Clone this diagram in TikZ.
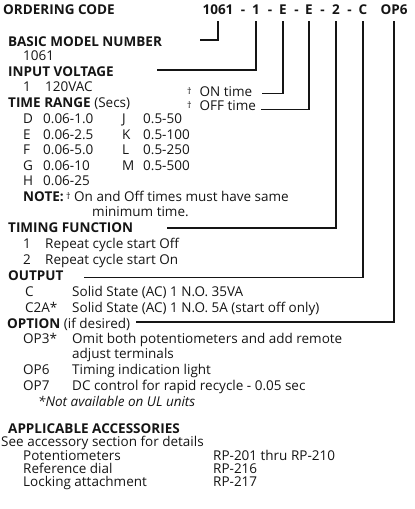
\documentclass[tikz,border=0pt]{standalone}
\usepackage{fontspec}
\setmainfont{Open Sans}
\definecolor{ink}{HTML}{151515}
\newcommand\dg{\raisebox{2pt}{\fontsize{9}{9}\selectfont †}}
\tikzset{
  txt/.style={anchor=base west, inner sep=0pt, font=\fontsize{13.5}{15}\selectfont, text=ink},
  hd/.style={txt, font=\fontsize{13.5}{15}\selectfont\bfseries},
  itxt/.style={txt, font=\fontsize{13.5}{15}\selectfont\itshape},
  code/.style={anchor=base, inner sep=0pt, font=\fontsize{13.5}{15}\selectfont\bfseries, text=ink},
  conn/.style={draw=ink, line width=1.3pt},
}
\begin{document}
\begin{tikzpicture}[x=1pt,y=-1pt]
\fill[white] (0,0) rectangle (415,509);
\useasboundingbox (0,0) rectangle (415,509);
% ordering code
\node[hd] (ord) at (3,14) {ORDERING CODE};
\node[code] (c1061) at (218,14) {1061};
\node[code] (d1) at (243,14) {-};
\node[code] (c1) at (256,14) {1};
\node[code] (d2) at (270,14) {-};
\node[code] (cE1) at (283,14) {E};
\node[code] (d3) at (296.5,14) {-};
\node[code] (cE2) at (309,14) {E};
\node[code] (d4) at (322.5,14) {-};
\node[code] (c2) at (336,14) {2};
\node[code] (d5) at (349.5,14) {-};
\node[code] (cC) at (363,14) {C};
\node[code] (cOP) at (394,14) {OP6};
\coordinate (top) at (0,21);
% basic model
\node[hd] (basic) at (8,46) {BASIC MODEL NUMBER};
\node[txt] (b1061) at (23,60.7) {1061};
% input voltage
\node[hd] (input) at (8,76) {INPUT VOLTAGE};
\node[txt] (iv1) at (23,91.5) {1};
\node[txt] (iv1t) at (45,91.5) {120VAC};
% on/off time
\node[txt] (ondg) at (187,96) {\dg};
\node[txt] (ont) at (199.5,96) {ON time};
\node[txt] (offdg) at (187,110.7) {\dg};
\node[txt] (offt) at (199.5,110.7) {OFF time};
% time range
\node[txt] (trange) at (8,107.5) {\textbf{TIME RANGE} (Secs)};
\node[txt] (tD) at (23,123.5) {D};   \node[txt] (tDv) at (43,123.5) {0.06-1.0};
\node[txt] (tE) at (23,139) {E};     \node[txt] (tEv) at (43,139) {0.06-2.5};
\node[txt] (tF) at (23,154.5) {F};   \node[txt] (tFv) at (43,154.5) {0.06-5.0};
\node[txt] (tG) at (23,170) {G};     \node[txt] (tGv) at (43,170) {0.06-10};
\node[txt] (tH) at (23,185.5) {H};   \node[txt] (tHv) at (43,185.5) {0.06-25};
\node[txt] (tJ) at (122,123.5) {J};  \node[txt] (tJv) at (143,123.5) {0.5-50};
\node[txt] (tK) at (122,139) {K};    \node[txt] (tKv) at (143,139) {0.5-100};
\node[txt] (tL) at (122,154.5) {L};  \node[txt] (tLv) at (143,154.5) {0.5-250};
\node[txt] (tM) at (122,170) {M};    \node[txt] (tMv) at (143,170) {0.5-500};
\node[txt] (note) at (23,201) {\textbf{NOTE:}};
\node[txt] (notedg) at ([xshift=2pt]note.base east) {\dg};
\node[txt] (note1) at (74,201) {On and Off times must have same};
\node[txt] (note2) at (92,216.5) {minimum time.};
% timing function
\node[hd] (timing) at (8,232.5) {TIMING FUNCTION};
\node[txt] (tf1) at (23,248.3) {1}; \node[txt] (tf1t) at (45,248.3) {Repeat cycle start Off};
\node[txt] (tf2) at (23,264.5) {2}; \node[txt] (tf2t) at (45,264.5) {Repeat cycle start On};
% output
\node[hd] (output) at (8,280.5) {OUTPUT};
\node[txt] (oC) at (25,296.7) {C};    \node[txt] (oCt) at (72,296.7) {Solid State (AC) 1 N.O. 35VA};
\node[txt] (oC2) at (25,312.5) {C2A*}; \node[txt] (oC2t) at (72,312.5) {Solid State (AC) 1 N.O. 5A (start off only)};
% option
\node[txt] (option) at (7,328) {\textbf{OPTION} (if desired)};
\node[txt] (op3) at (23,343.5) {OP3*}; \node[txt] (op3t) at (72,343.5) {Omit both potentiometers and add remote};
\node[txt] (op3u) at (72,358.5) {adjust terminals};
\node[txt] (op6) at (23,374) {OP6}; \node[txt] (op6t) at (72,374) {Timing indication light};
\node[txt] (op7) at (23,390) {OP7}; \node[txt] (op7t) at (72,390) {DC control for rapid recycle - 0.05 sec};
\node[itxt] (ul) at (38,406) {*Not available on UL units};
% accessories
\node[hd] (acc) at (8,433) {APPLICABLE ACCESSORIES};
\node[txt] (see) at (1,446) {See accessory section for details};
\node[txt] (a1) at (23,460) {Potentiometers};     \node[txt] (a1v) at (213,460) {RP-201 thru RP-210};
\node[txt] (a2) at (23,473) {Reference dial};     \node[txt] (a2v) at (213,473) {RP-216};
\node[txt] (a3) at (23,486) {Locking attachment}; \node[txt] (a3v) at (213,486) {RP-217};
% connectors
\coordinate (s1) at (200,40);
\coordinate (s2) at (157,70);
\coordinate (s3) at (262,93.3);
\coordinate (s4) at (261,109.3);
\coordinate (s5) at (167,228);
\coordinate (s6) at (84,277.5);
\coordinate (s7) at (136,322);
\draw[conn] (s1) -| (c1061 |- top);
\draw[conn] (s2) -| (c1 |- top);
\draw[conn] (s3) -| (cE1 |- top);
\draw[conn] (s4) -| (cE2 |- top);
\draw[conn] (s5) -| (c2 |- top);
\draw[conn] (s6) -| (cC |- top);
\draw[conn] (s7) -| (cOP |- top);
\end{tikzpicture}
\end{document}
